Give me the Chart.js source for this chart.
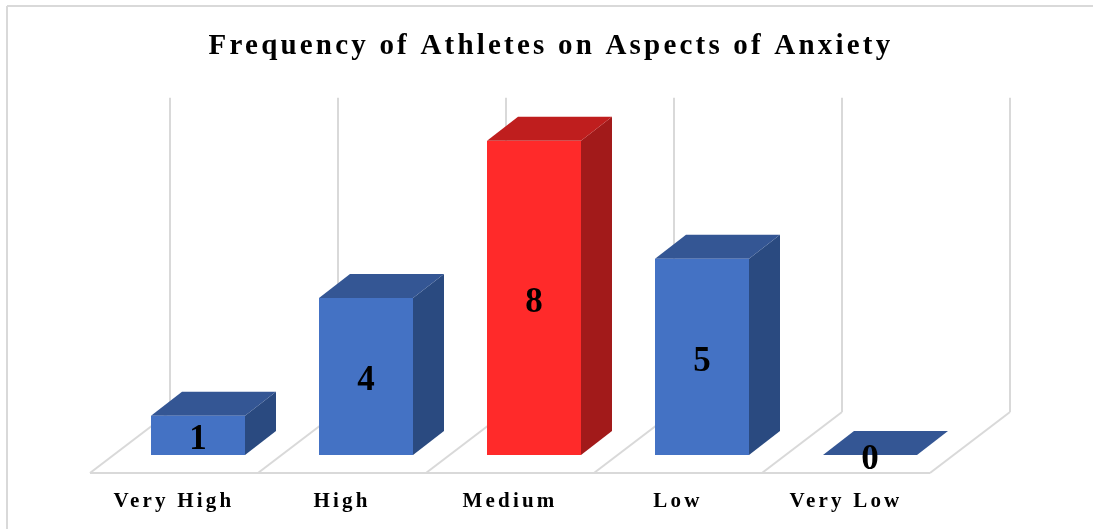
<!DOCTYPE html>
<html>
<head>
<meta charset="utf-8">
<title>Frequency of Athletes on Aspects of Anxiety</title>
<script src="https://cdn.jsdelivr.net/npm/chart.js@4"></script>
<style>
    html, body { margin: 0; padding: 0; background: #fff; overflow: hidden; }
    #chartBox { position: relative; width: 1093px; height: 529px; }
</style>
</head>
<body>
<div id="chartBox"><canvas id="anxietyChart"></canvas></div>
<script>
const categories = ['Very High', 'High', 'Medium', 'Low', 'Very Low'];
const frequency = [1, 4, 8, 5, 0];
const chartTitle = 'Frequency of Athletes on Aspects of Anxiety';

const gridColor = '#d9d9d9';
const faceBlue = { front: '#4472c4', top: '#345694', side: '#2a4a80' };
const faceRed = { front: '#ff2a2a', top: '#bf1e1e', side: '#a21a1a' };

function facesFor(index) {
    return frequency[index] === Math.max.apply(null, frequency) ? faceRed : faceBlue;
}

function polygon(ctx, points, color) {
    ctx.fillStyle = color;
    ctx.beginPath();
    points.forEach((p, i) => i ? ctx.lineTo(p[0], p[1]) : ctx.moveTo(p[0], p[1]));
    ctx.closePath();
    ctx.fill();
}

function line(ctx, x1, y1, x2, y2) {
    ctx.beginPath();
    ctx.moveTo(x1, y1);
    ctx.lineTo(x2, y2);
    ctx.stroke();
}

// draws the frame, the floor and the back wall, then the depth of the bars
const boxes3d = {
    id: 'boxes3d',
    afterLayout(chart) {
        // the title is centred on the page, not on the plot
        chart.titleBlock.left = 9;
        chart.titleBlock.right = 1093;
    },
    beforeDraw(chart) {
        const ctx = chart.ctx;
        ctx.save();
        ctx.fillStyle = '#fff';
        ctx.fillRect(0, 0, chart.width, chart.height);
        ctx.strokeStyle = gridColor;
        ctx.lineWidth = 2;
        line(ctx, 7, 529, 7, 6);
        line(ctx, 7, 6, 1093, 6);
        ctx.restore();
        // chart.js keeps this for the title and the tick labels
        ctx.letterSpacing = '3.2px';
    },
    beforeDatasetsDraw(chart) {
        const ctx = chart.ctx;
        const x = chart.scales.x;
        const y = chart.scales.y;
        const step = (x.right - x.left) / categories.length;
        const floorBack = y.getPixelForValue(0) - 43;
        const floorFront = y.getPixelForValue(0) + 18;
        const wallTop = y.getPixelForValue(8) - 43;

        ctx.save();
        ctx.letterSpacing = '0px';
        ctx.strokeStyle = gridColor;
        ctx.lineWidth = 2;
        for (let i = 0; i <= categories.length; i++) {
            const edge = x.left + i * step;
            line(ctx, edge + 56, wallTop, edge + 56, floorBack);
            line(ctx, edge + 56, floorBack, edge - 24, floorFront);
        }
        line(ctx, x.left - 24, floorFront, x.right - 24, floorFront);

        const dx = 31;
        const dy = 24;
        chart.getDatasetMeta(0).data.forEach((bar, i) => {
            const left = bar.x - bar.width / 2;
            const right = bar.x + bar.width / 2;
            const faces = facesFor(i);
            polygon(ctx, [[right, bar.y], [right + dx, bar.y - dy], [right + dx, bar.base - dy], [right, bar.base]], faces.side);
            polygon(ctx, [[left, bar.y], [left + dx, bar.y - dy], [right + dx, bar.y - dy], [right, bar.y]], faces.top);
        });
        ctx.restore();
    },
    afterDatasetsDraw(chart) {
        const ctx = chart.ctx;
        ctx.save();
        ctx.letterSpacing = '0px';
        ctx.fillStyle = '#000';
        ctx.font = 'bold 35px "Liberation Serif"';
        ctx.textAlign = 'center';
        ctx.textBaseline = 'middle';
        chart.getDatasetMeta(0).data.forEach((bar, i) => {
            ctx.fillText(String(frequency[i]), bar.x, (bar.y + bar.base) / 2 + 5);
        });
        ctx.restore();
    }
};

new Chart(document.getElementById('anxietyChart').getContext('2d'), {
    type: 'bar',
    data: {
        labels: categories,
        datasets: [{
            label: 'Frequency',
            data: frequency,
            backgroundColor: ctx => facesFor(ctx.dataIndex).front,
            categoryPercentage: 1,
            barPercentage: 94 / 168
        }]
    },
    options: {
        responsive: true,
        maintainAspectRatio: false,
        animation: false,
        devicePixelRatio: 1,
        layout: { padding: { left: 114, right: 139, top: 29, bottom: 0 } },
        scales: {
            x: {
                grid: { display: false },
                border: { display: false },
                afterFit: scale => { scale.height = 74; },
                ticks: {
                    color: '#000',
                    font: { family: '"Liberation Serif"', size: 21, weight: 'bold' },
                    labelOffset: -24,
                    padding: 26,
                    maxRotation: 0,
                    autoSkip: false
                }
            },
            y: { display: false, min: 0, max: 8 }
        },
        plugins: {
            legend: { display: false },
            tooltip: { enabled: false },
            title: {
                display: true,
                text: chartTitle,
                color: '#000',
                font: { family: '"Liberation Serif"', size: 29, weight: 'bold' },
                padding: { top: 0, bottom: 77 }
            }
        }
    },
    plugins: [boxes3d]
});
</script>
</body>
</html>
